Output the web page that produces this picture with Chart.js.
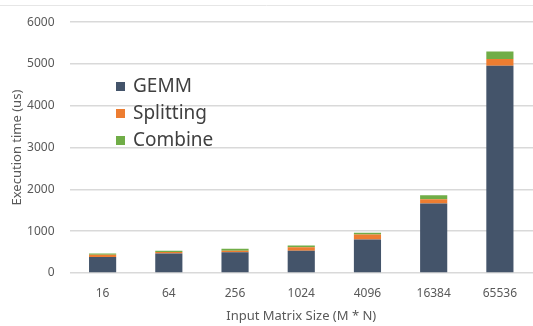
<!DOCTYPE html>
<html>
<head>
<meta charset="utf-8">
<script src="https://cdn.jsdelivr.net/npm/chart.js@4"></script>
<style>
  html, body { margin: 0; padding: 0; background: #fff; }
  #wrap { position: relative; width: 533px; height: 326px; }
  #legend { position: absolute; left: 116px; top: 72px; font-family: "Noto Sans", sans-serif; font-size: 19px; color: #404040; }
  #legend div { height: 27px; line-height: 27px; white-space: nowrap; }
  #legend span.box { display: inline-block; width: 9px; height: 9px; margin-right: 8px; vertical-align: 1px; }
</style>
</head>
<body>
<div id="wrap">
  <canvas id="myChart" width="533" height="326"></canvas>
  <div id="legend"></div>
</div>
<script>
const categories = ['16', '64', '256', '1024', '4096', '16384', '65536'];
const gemm = [385, 465, 495, 535, 800, 1665, 4960];
const splitting = [50, 40, 40, 80, 120, 100, 160];
const combine = [30, 30, 45, 40, 40, 95, 180];
const seriesNames = ['GEMM', 'Splitting', 'Combine'];
const seriesColors = ['#44546a', '#ed7d31', '#70ad47'];

document.addEventListener('DOMContentLoaded', (event) => {
    const ctx = document.getElementById('myChart').getContext('2d');

    // faint frame line along the top edge
    const topLine = {
        id: 'topLine',
        beforeDraw(chart) {
            const c = chart.ctx;
            c.save();
            c.strokeStyle = '#e6e6e6';
            c.lineWidth = 1;
            c.beginPath();
            c.moveTo(0, 5.5);
            c.lineTo(chart.width, 5.5);
            c.stroke();
            c.restore();
        }
    };

    const myChart = new Chart(ctx, {
        type: 'bar',
        data: {
            labels: categories,
            datasets: [gemm, splitting, combine].map((vals, i) => ({
                label: seriesNames[i],
                data: vals,
                backgroundColor: seriesColors[i],
                categoryPercentage: 1,
                barPercentage: 0.41
            }))
        },
        options: {
            responsive: false,
            animation: false,
            layout: {
                padding: { top: 14, right: 0, left: 9, bottom: 2 }
            },
            scales: {
                x: {
                    stacked: true,
                    grid: { display: false },
                    border: { display: false },
                    ticks: {
                        color: '#595959',
                        font: { family: 'Noto Sans', size: 12 },
                        padding: 5
                    },
                    title: {
                        display: true,
                        text: 'Input Matrix Size (M * N)',
                        color: '#595959',
                        font: { family: 'Noto Sans', size: 13 },
                        padding: { top: 3, bottom: 0 }
                    }
                },
                y: {
                    stacked: true,
                    min: 0,
                    max: 6000,
                    border: { display: false },
                    grid: {
                        color: '#d9d9d9',
                        lineWidth: 1.5,
                        drawTicks: false
                    },
                    ticks: {
                        stepSize: 1000,
                        color: '#595959',
                        font: { family: 'Noto Sans', size: 12 },
                        padding: 15,
                        callback: (v) => String(v)
                    },
                    title: {
                        display: true,
                        text: 'Execution time (us)',
                        color: '#595959',
                        font: { family: 'Noto Sans', size: 13 },
                        padding: { top: 0, bottom: 4 }
                    },
                    afterFit: (scale) => { scale.width = 60.5; }
                }
            },
            plugins: {
                legend: { display: false },
                tooltip: { enabled: false }
            }
        },
        plugins: [topLine]
    });

    const legend = document.getElementById('legend');
    seriesNames.forEach((name, i) => {
        const row = document.createElement('div');
        row.innerHTML = '<span class="box" style="background:' + seriesColors[i] + '"></span>' + name;
        legend.appendChild(row);
    });
});
</script>
</body>
</html>
